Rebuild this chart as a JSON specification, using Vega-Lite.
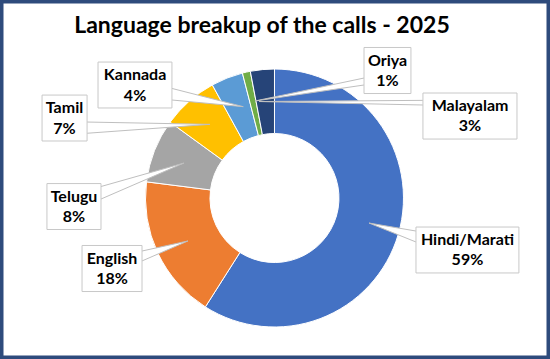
{
  "$schema": "https://vega.github.io/schema/vega-lite/v6.json",
  "autosize": {"type": "none"},
  "width": 550,
  "height": 359,
  "padding": 0,
  "background": "white",
  "config": {
    "view": {"stroke": "#2E4B7C", "strokeWidth": 7, "fill": "white"}
  },
  "datasets": {
    "langs": [
      {"name": "Hindi/Marati", "share": 0.59, "rank": 1},
      {"name": "English", "share": 0.18, "rank": 2},
      {"name": "Telugu", "share": 0.08, "rank": 3},
      {"name": "Tamil", "share": 0.07, "rank": 4},
      {"name": "Kannada", "share": 0.04, "rank": 5},
      {"name": "Oriya", "share": 0.01, "rank": 6},
      {"name": "Malayalam", "share": 0.03, "rank": 7}
    ],
    "heading": [
      {"title": "Language breakup of the calls - 2025", "hx": -9.7, "hy": 127.9}
    ],
    "boxes": [
      {"name": "Hindi/Marati", "bx1": 109.7, "bx2": 189.5, "by1": -22.5, "by2": -58.1, "cx": 149.6, "cy": -40.3},
      {"name": "English", "bx1": -149.2, "bx2": -102.7, "by1": -36.8, "by2": -72.5, "cx": -126.0, "cy": -54.7},
      {"name": "Telugu", "bx1": -176.4, "bx2": -134.5, "by1": 11.2, "by2": -24.4, "cx": -155.4, "cy": -6.6},
      {"name": "Tamil", "bx1": -180.2, "bx2": -145.3, "by1": 79.8, "by2": 44.2, "cx": -162.8, "cy": 62.0},
      {"name": "Kannada", "bx1": -136.8, "bx2": -79.5, "by1": 105.4, "by2": 69.8, "cx": -108.1, "cy": 87.6},
      {"name": "Oriya", "bx1": 69.4, "bx2": 105.8, "by1": 116.7, "by2": 81.0, "cx": 87.6, "cy": 98.8},
      {"name": "Malayalam", "bx1": 115.1, "bx2": 188.0, "by1": 81.4, "by2": 45.7, "cx": 151.6, "cy": 63.6}
    ],
    "callouts": [
      {"name": "Hindi/Marati", "seq": 1, "wx": 109.7, "wy": -25.6},
      {"name": "Hindi/Marati", "seq": 2, "wx": 73.3, "wy": -19.4},
      {"name": "Hindi/Marati", "seq": 3, "wx": 109.7, "wy": -34.1},
      {"name": "English", "seq": 1, "wx": -102.7, "wy": -41.1},
      {"name": "English", "seq": 2, "wx": -67.1, "wy": -33.3},
      {"name": "English", "seq": 3, "wx": -102.7, "wy": -48.8},
      {"name": "Telugu", "seq": 1, "wx": -134.5, "wy": 8.9},
      {"name": "Telugu", "seq": 2, "wx": -70.2, "wy": 27.1},
      {"name": "Telugu", "seq": 3, "wx": -134.5, "wy": -0.8},
      {"name": "Tamil", "seq": 1, "wx": -145.3, "wy": 58.9},
      {"name": "Tamil", "seq": 2, "wx": -50.0, "wy": 57.1},
      {"name": "Tamil", "seq": 3, "wx": -145.3, "wy": 50.2},
      {"name": "Kannada", "seq": 1, "wx": -79.7, "wy": 85.0},
      {"name": "Kannada", "seq": 2, "wx": -24.2, "wy": 70.8},
      {"name": "Kannada", "seq": 3, "wx": -79.7, "wy": 76.0},
      {"name": "Oriya", "seq": 1, "wx": 69.4, "wy": 93.0},
      {"name": "Oriya", "seq": 2, "wx": -15.1, "wy": 75.2},
      {"name": "Oriya", "seq": 3, "wx": 69.4, "wy": 87.6},
      {"name": "Malayalam", "seq": 1, "wx": 115.1, "wy": 75.7},
      {"name": "Malayalam", "seq": 2, "wx": -12.0, "wy": 74.8},
      {"name": "Malayalam", "seq": 3, "wx": 115.1, "wy": 72.1}
    ]
  },
  "layer": [
    {
      "data": {"name": "langs"},
      "mark": {"type": "arc", "outerRadius": 129, "innerRadius": 64.5, "stroke": "white", "strokeWidth": 1},
      "encoding": {
        "x": {"datum": 0, "type": "quantitative", "scale": {"domain": [-212.8, 213.6], "nice": false, "zero": false}, "axis": null},
        "y": {"datum": 0, "type": "quantitative", "scale": {"domain": [-124.8, 153.5], "nice": false, "zero": false}, "axis": null},
        "theta": {"field": "share", "type": "quantitative", "stack": true},
        "order": {"field": "rank", "type": "quantitative"},
        "color": {
          "field": "name",
          "type": "nominal",
          "legend": null,
          "scale": {
            "domain": ["Hindi/Marati", "English", "Telugu", "Tamil", "Kannada", "Oriya", "Malayalam"],
            "range": ["#4472C4", "#ED7D31", "#A5A5A5", "#FFC000", "#5B9BD5", "#70AD47", "#264478"]
          }
        }
      }
    },
    {
      "data": {"name": "heading"},
      "mark": {"type": "text", "font": "Lato", "fontSize": 23, "fontWeight": "bold", "color": "#000000", "baseline": "alphabetic", "align": "center"},
      "encoding": {
        "x": {"field": "hx", "type": "quantitative"},
        "y": {"field": "hy", "type": "quantitative"},
        "text": {"field": "title"}
      }
    },
    {
      "data": {"name": "callouts"},
      "mark": {"type": "line", "fill": "white", "stroke": "#BFBFBF", "strokeWidth": 1, "interpolate": "linear"},
      "encoding": {
        "x": {"field": "wx", "type": "quantitative"},
        "y": {"field": "wy", "type": "quantitative"},
        "detail": {"field": "name"},
        "order": {"field": "seq", "type": "quantitative"}
      }
    },
    {
      "data": {"name": "boxes"},
      "mark": {"type": "rect", "fill": "white", "stroke": "#C8C8C8", "strokeWidth": 1},
      "encoding": {
        "x": {"field": "bx1", "type": "quantitative"},
        "x2": {"field": "bx2"},
        "y": {"field": "by1", "type": "quantitative"},
        "y2": {"field": "by2"}
      }
    },
    {
      "data": {"name": "boxes"},
      "mark": {"type": "text", "font": "Lato", "fontSize": 16, "fontWeight": "bold", "color": "#000000", "baseline": "middle", "align": "center", "dy": -10},
      "encoding": {
        "x": {"field": "cx", "type": "quantitative"},
        "y": {"field": "cy", "type": "quantitative"},
        "text": {"field": "name"}
      }
    },
    {
      "data": {"name": "boxes"},
      "transform": [
        {"lookup": "name", "from": {"data": {"name": "langs"}, "key": "name", "fields": ["share"]}}
      ],
      "mark": {"type": "text", "font": "Lato", "fontSize": 16, "fontWeight": "bold", "color": "#000000", "baseline": "middle", "align": "center", "dy": 10.5},
      "encoding": {
        "x": {"field": "cx", "type": "quantitative"},
        "y": {"field": "cy", "type": "quantitative"},
        "text": {"field": "share", "type": "quantitative", "format": ".0%"}
      }
    }
  ]
}
